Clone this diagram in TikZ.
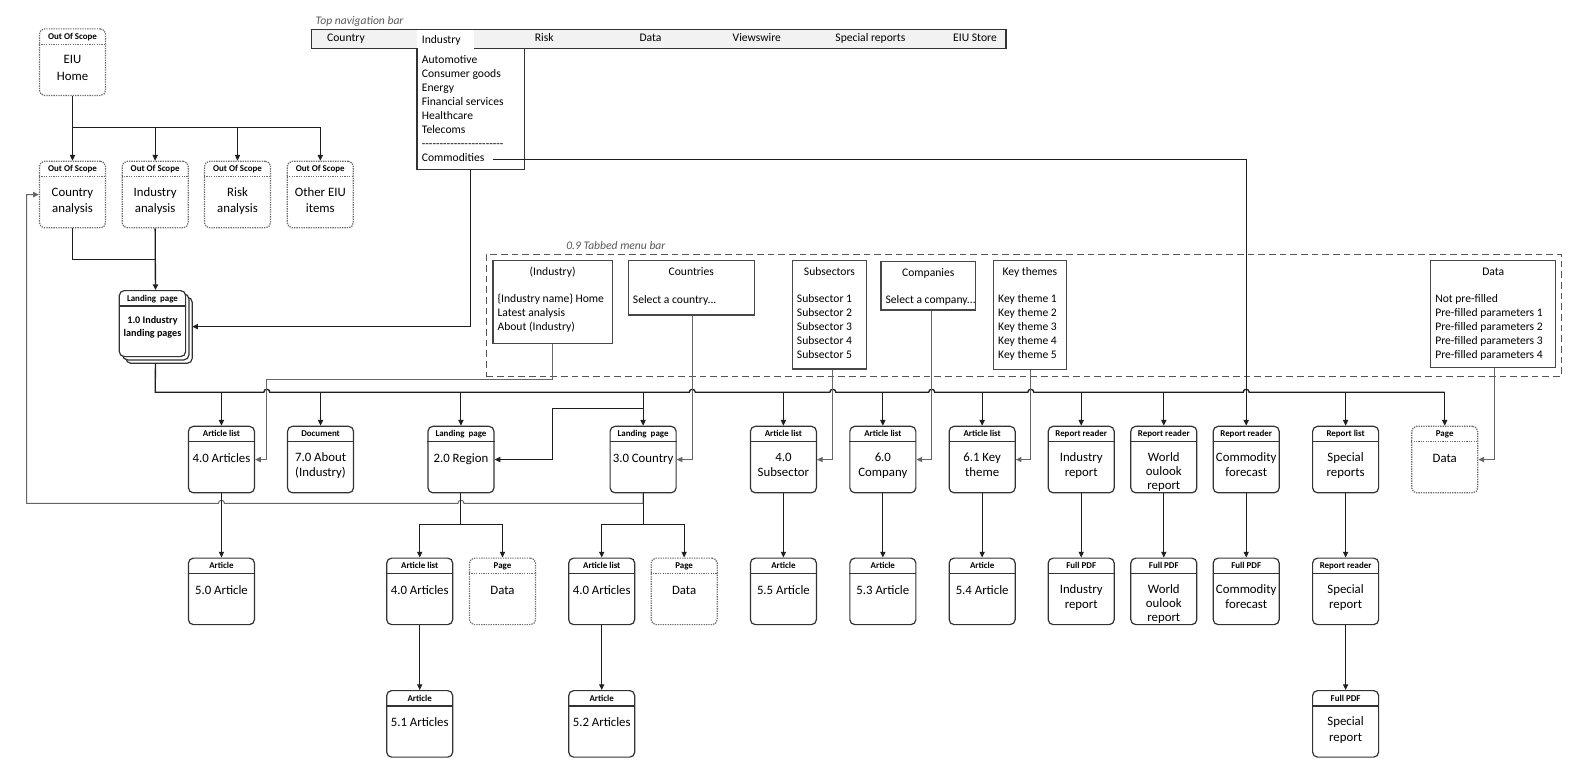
\documentclass[tikz,border=0pt]{standalone}
\usepackage{fontspec}
\setmainfont{Carlito}
\usetikzlibrary{arrows.meta,calc}
\definecolor{boxc}{HTML}{333333}
\definecolor{dotc}{HTML}{6A6A6A}
\definecolor{lineg}{HTML}{666666}
\definecolor{lined}{HTML}{1F1F1F}
\definecolor{barf}{HTML}{F2F2F2}
\definecolor{labc}{HTML}{595959}
\definecolor{tabc}{HTML}{474747}
\definecolor{dashc}{HTML}{555555}
\newcommand\bodyfont{\fontsize{9.6pt}{11.5pt}\selectfont}
\newcommand\hdrfont{\fontsize{6.7pt}{8pt}\selectfont\bfseries}
\newcommand\menufont{\fontsize{8.7pt}{10.5pt}\selectfont}
\newcommand\pbox[6][]{%
  \node[pgbox,#1,anchor=north] (#2) at (#3,#4) {};
  \draw[pgsep,#1] ($(#2.north west)+(0,16)$) -- ($(#2.north east)+(0,16)$);
  \node[hdr] (#2h) at ($(#2.north)+(0,11)$) {#5};
  \node[bdy] (#2b) at ($(#2.north)+(0,26.8)$) {#6};
}
\newcommand\tabbox[7]{%
  \node[tabbox, minimum width=#4*0.75pt, minimum height=#5*0.75pt] (#1) at (#2,#3) {};
  \node[menut] (#1t) at ($(#1.north)+(0,15.7)$) {#6};
  \node[menui] (#1i) at ($(#1.north west)+(5,34)$) {#7};
}
\newcommand\hopr[2]{-- ({#1-3},#2) .. controls ({#1-3},{#2-4}) and ({#1+3},{#2-4}) .. ({#1+3},#2)}
\newcommand\hopl[2]{-- ({#1+3},#2) .. controls ({#1+3},{#2-4}) and ({#1-3},{#2-4}) .. ({#1-3},#2)}
\begin{document}
\begin{tikzpicture}[x=0.75pt,y=-0.75pt,
  pgbox/.style={draw=boxc, line width=0.9pt, rounded corners=3.75pt, fill=white, minimum width=49.5pt, minimum height=49.9pt, inner sep=0pt},
  pgsep/.style={draw=boxc, line width=0.9pt},
  oos/.style={draw=dotc, dash pattern=on 1pt off 0.8pt},
  hdr/.style={font=\hdrfont, inner sep=0pt, anchor=base},
  bdy/.style={font=\bodyfont, align=center, inner sep=0pt, anchor=north, execute at begin node={\rule{0pt}{7.2pt}}},
  arr/.style={draw=lined, line width=0.75pt, -{Triangle[length=4.3pt,width=3.9pt]}},
  arrg/.style={arr, draw=lineg},
  ln/.style={draw=lined, line width=0.75pt},
  bus/.style={draw=lined, line width=1pt},
  tabbox/.style={draw=tabc, line width=0.9pt, fill=white, inner sep=0pt, anchor=north west},
  menut/.style={font=\menufont, inner sep=0pt, anchor=base},
  menui/.style={font=\menufont, align=left, inner sep=0pt, anchor=north west, execute at begin node={\rule{0pt}{6.6pt}}},
  lab/.style={font=\menufont\itshape, text=labc, inner sep=0pt, anchor=base west},
  navt/.style={font=\menufont, inner sep=0pt, anchor=base},
]
\useasboundingbox (0,0) rectangle (1591,784);
\fill[white] (0,0) rectangle (1591,784);

% ---------- top navigation bar ----------
\node[lab] (navlab) at (315.4,24.4) {Top navigation bar};
\node[draw=boxc, line width=0.9pt, fill=barf, minimum width=694.6*0.75pt, minimum height=19.3*0.75pt, inner sep=0pt, anchor=north west] (nav) at (310.7,29) {};
\fill[white] (417.3,29.6) rectangle (473.5,48.9);
\node[fill=white, inner sep=0pt, minimum width=107.1*0.75pt, minimum height=120.7*0.75pt, anchor=north west] (dd) at (416.9,48.3) {};
\draw[draw=boxc, line width=0.9pt] (dd.north west) -- (dd.south west) -- (dd.south east) -- (dd.north east);
\node[navt] (n1) at (346,42) {Country};
\node[navt, anchor=base west] (n2) at (421.6,43.7) {Industry};
\node[navt] (n3) at (544.3,42) {Risk};
\node[navt] (n4) at (650.5,42) {Data};
\node[navt] (n5) at (756.8,42) {Viewswire};
\node[navt] (n6) at (870.4,42) {Special reports};
\node[navt] (n7) at (975,42) {EIU Store};
\node[menui] (ddi) at (421.6,55.2) {Automotive\\Consumer goods\\Energy\\Financial services\\Healthcare\\Telecoms\\-{}-{}-{}-{}-{}-{}-{}-{}-{}-{}-{}-{}-{}-{}-{}-{}-{}-{}-{}-{}-{}-{}-{}};
\node[navt, anchor=base west] (com) at (421.6,162) {Commodities};

% ---------- tabbed menu bar ----------
\node[lab] (tablab) at (566,249.7) {0.9 Tabbed menu bar};
\node[draw=dashc, line width=0.9pt, dash pattern=on 5pt off 3pt, inner sep=0pt, minimum width=1075*0.75pt, minimum height=122*0.75pt, anchor=north west] (tabbar) at (485.7,253.7) {};
\tabbox{tind}{492.3}{260.3}{119.4}{82.4}{(Industry)}{\{Industry name\} Home\\Latest analysis\\About (Industry)}
\tabbox{tcou}{627.7}{260.3}{126}{54}{Countries}{Select a country...}
\tabbox{tsub}{791.7}{260.3}{74.3}{108}{Subsectors}{Subsector 1\\Subsector 2\\Subsector 3\\Subsector 4\\Subsector 5}
\tabbox{tcomp}{880.3}{260.7}{94.7}{48.6}{Companies}{Select a company...}
\tabbox{tkt}{992.9}{260.3}{72.8}{108.7}{Key themes}{Key theme 1\\Key theme 2\\Key theme 3\\Key theme 4\\Key theme 5}
\tabbox{tdata}{1430}{260.3}{125.2}{106.7}{Data}{Not pre-filled\\Pre-filled parameters 1\\Pre-filled parameters 2\\Pre-filled parameters 3\\Pre-filled parameters 4}

% ---------- out of scope ----------
\pbox[oos]{home}{72.5}{28.3}{Out Of Scope}{EIU\\[1.5pt]Home}
\pbox[oos]{ca}{72.5}{160.7}{Out Of Scope}{Country\\[0.5pt]analysis}
\pbox[oos]{ia}{155.15}{160.7}{Out Of Scope}{Industry\\[0.5pt]analysis}
\pbox[oos]{ra}{237.5}{160.7}{Out Of Scope}{Risk\\[0.5pt]analysis}
\pbox[oos]{oe}{320.3}{160.7}{Out Of Scope}{Other EIU\\[0.5pt]items}

% ---------- landing pages stack ----------
\node[pgbox, minimum width=49.75pt, minimum height=49.5pt, anchor=north west] (land3) at (125.3,296.7) {};
\node[pgbox, minimum width=49.75pt, minimum height=49.5pt, anchor=north west] (land2) at (122,293.3) {};
\node[pgbox, minimum width=49.75pt, minimum height=49.5pt, anchor=north west] (land1) at (118.7,290) {};
\draw[pgsep] ($(land1.north west)+(0,16)$) -- ($(land1.north east)+(0,16)$);
\node[hdr] (land1h) at ($(land1.north)+(0,11)$) {Landing~ page};
\node[font=\fontsize{7.6pt}{9.75pt}\selectfont\bfseries, align=center, inner sep=0pt, anchor=north, execute at begin node={\rule{0pt}{6pt}}] (land1b) at ($(land1.north)+(0,26.3)$) {1.0 Industry\\landing pages};
\node[inner sep=0pt, minimum width=73*0.75pt, minimum height=72.7*0.75pt, anchor=north west] (land) at (118.7,290) {};

% ---------- row 2 ----------
\pbox{art4}{221.45}{425.7}{Article list}{4.0 Articles}
\pbox{about}{320.55}{425.7}{Document}{7.0 About\\(Industry)}
\pbox{region}{460.95}{425.7}{Landing~ page}{2.0 Region}
\pbox{country}{643.1}{425.7}{Landing~ page}{3.0 Country}
\pbox{subs}{783.4}{425.7}{Article list}{4.0\\Subsector}
\pbox{comp}{882.85}{425.7}{Article list}{6.0\\Company}
\pbox{kt}{982.15}{425.7}{Article list}{6.1 Key\\theme}
\pbox{ir}{1081.2}{425.7}{Report reader}{Industry\\report}
\pbox{wo}{1163.8}{425.7}{Report reader}{World\\[-1pt]oulook\\[-1pt]report}
\pbox{cf}{1246.2}{425.7}{Report reader}{Commodity\\forecast}
\pbox{sr}{1345.6}{425.7}{Report list}{Special\\reports}
\pbox[oos]{pdata}{1444.7}{425.7}{Page}{Data}

% ---------- row 3 ----------
\pbox{a50}{221.45}{557.5}{Article}{5.0 Article}
\pbox{art4r}{419.7}{557.5}{Article list}{4.0 Articles}
\pbox[oos]{pdr}{502.5}{557.5}{Page}{Data}
\pbox{art4c}{601.7}{557.5}{Article list}{4.0 Articles}
\pbox[oos]{pdc}{684.15}{557.5}{Page}{Data}
\pbox{a55}{783.4}{557.5}{Article}{5.5 Article}
\pbox{a53}{882.85}{557.5}{Article}{5.3 Article}
\pbox{a54}{982.15}{557.5}{Article}{5.4 Article}
\pbox{fir}{1081.2}{557.5}{Full PDF}{Industry\\report}
\pbox{fwo}{1163.8}{557.5}{Full PDF}{World\\[-1pt]oulook\\[-1pt]report}
\pbox{fcf}{1246.2}{557.5}{Full PDF}{Commodity\\forecast}
\pbox{rrs}{1345.6}{557.5}{Report reader}{Special\\report}

% ---------- row 4 ----------
\pbox{a51}{419.7}{690}{Article}{5.1 Articles}
\pbox{a52}{601.7}{690}{Article}{5.2 Articles}
\pbox{fsr}{1345.6}{690}{Full PDF}{Special\\report}

% ---------- connectors ----------
\coordinate (j1) at (72.5,127.7);
\coordinate (j2) at (155.15,260);
\coordinate (busy) at (0,392.3);
\coordinate (rb) at (552.5,408.3);
\coordinate (ti1) at (266.8,379.3);
\coordinate (xcou) at (692.3,0);
\coordinate (xsub) at (832.8,0);
\coordinate (xcomp) at (931.7,0);
\coordinate (xkt) at (1030.8,0);
\coordinate (xdat) at (1494,0);
\coordinate (rs) at (460.95,524.3);
\coordinate (cs) at (643.1,524.3);

\draw[arr] (home.south) -- (ca.north);
\foreach \n in {ia,ra,oe} \draw[arr] (j1) -| (\n.north);
\draw[ln] (ca.south) |- (j2);
\draw[arr, line width=1pt] (ia.south) -- (land.north);
\draw[arr] (dd.south) |- (land.east);

% loop back to country analysis
\draw[arrg] (country.south) -- (643.1,503.3) \hopl{460.95}{503.3} \hopl{221.45}{503.3} -- (26.7,503.3) |- (ca.west);

% main bus
\draw[bus] (land.south) -- (155.2,392.3) \hopr{266.8}{392.3} \hopr{692.3}{392.3} \hopr{832.8}{392.3} \hopr{931.7}{392.3} \hopr{1030.8}{392.3} \hopr{1246.2}{392.3} -- (1444.7,392.3);
\foreach \n in {art4,about,region,country,subs,comp,kt,ir,wo,sr,pdata} \draw[arr] (\n.north |- busy) -- (\n.north);

% commodities
\draw[arr] ($(com.base east)+(8,-2.7)$) -| (cf.north);

% region branch
\draw[arr] (country.north |- rb) -- (rb) |- (region.east);

% tab menu lines
\draw[arrg] (tind.south) |- (ti1) |- (art4.east);
\draw[arrg] (tcou.south -| xcou) |- (country.east);
\draw[arrg] (tsub.south -| xsub) |- (subs.east);
\draw[arrg] (tcomp.south -| xcomp) |- (comp.east);
\draw[arrg] (tkt.south -| xkt) |- (kt.east);
\draw[arrg] (tdata.south -| xdat) |- (pdata.east);

% splits
\draw[ln] (region.south) -- (rs);
\draw[arr] (rs) -| (art4r.north);
\draw[arr] (rs) -| (pdr.north);
\draw[ln] (country.south) -- (cs);
\draw[arr] (cs) -| (art4c.north);
\draw[arr] (cs) -| (pdc.north);

\foreach \a/\b in {art4/a50, art4r/a51, art4c/a52, subs/a55, comp/a53, kt/a54, ir/fir, wo/fwo, cf/fcf, sr/rrs, rrs/fsr} \draw[arr] (\a.south) -- (\b.north);
\end{tikzpicture}
\end{document}
